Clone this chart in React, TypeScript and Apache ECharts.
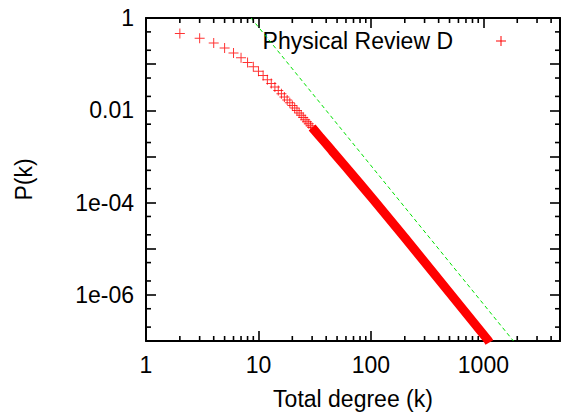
import React, { useEffect, useRef } from 'react';
import * as echarts from 'echarts';

// ---- data ----
const degreeK = [2, 3, 4, 5, 6, 7, 8, 9, 10, 11, 12, 13, 14, 15, 16, 17, 18, 19, 20, 21, 22, 23, 24, 25, 26, 27, 28, 29, 30];
const probabilityP = [
  0.463, 0.364, 0.288, 0.225, 0.175, 0.138, 0.109, 0.0874, 0.0699, 0.0564,
  0.046, 0.038, 0.0318, 0.0268, 0.0228, 0.0195, 0.0168, 0.0146, 0.0127, 0.0112,
  0.00986, 0.00875, 0.0078, 0.00698, 0.00627, 0.00565, 0.00512, 0.00465, 0.00423,
];
// dense part of the same series, where the markers merge into a solid band
const bandK = [30, 35, 40, 45, 60, 80, 107, 200, 500, 1100, 1130];
const bandP = [0.00423, 0.00272, 0.00187, 0.00133, 5.86e-4, 2.56e-4, 1.1e-4, 1.74e-5, 1.11e-6, 1.04e-7, 9.3e-8];
// green dashed reference line
const referenceK = [8.6, 1850];
const referenceP = [1, 1e-7];

const xTickValues = [1, 10, 100, 1000];
const xTickLabels = ['1', '10', '100', '1000'];
const yTickValues = [1, 0.01, 1e-4, 1e-6];
const yTickLabels = ['1', '0.01', '1e-04', '1e-06'];
const xMinorTicks = [2, 3, 4, 5, 6, 7, 8, 9, 20, 30, 40, 50, 60, 70, 80, 90, 200, 300, 400, 500, 600, 700, 800, 900, 2000, 3000, 4000];
const yMinorTicks = [0.5, 0.2, 0.05, 0.02, 0.005, 0.002, 5e-4, 2e-4, 5e-5, 2e-5, 5e-6, 2e-6, 5e-7, 2e-7];

const seriesName = 'Physical Review D';
const xAxisTitle = 'Total degree (k)';
const yAxisTitle = 'P(k)';

const FONT = "'Liberation Sans', Arial, Helvetica, sans-serif";
const FS = 23;
const PLUS = 'path://M0,4.5H10V5.5H0Z M4.5,0H5.5V10H4.5Z';
const TICK_W = 1.6;
const MINOR_LEN = 5;

const makeFormatter = (vals: number[], labels: string[]) => (v: number) => {
  const i = vals.findIndex((t) => Math.abs(Math.log10(t) - Math.log10(v)) < 1e-6);
  return i >= 0 ? labels[i] : '';
};

export default function App() {
  const ref = useRef<HTMLDivElement>(null);

  useEffect(() => {
    if (!ref.current) return;
    const chart = echarts.init(ref.current, undefined, { renderer: 'svg' });

    const labelStyle = { color: '#000', fontSize: FS, fontFamily: FONT };
    const axisLine = { show: true, onZero: false, lineStyle: { color: '#000', width: 2 } };
    const axisTick = { show: true, inside: true, length: 10, lineStyle: { color: '#000', width: TICK_W } };

    const option: any = {
      animation: false,
      backgroundColor: '#fff',
      grid: { left: 146, right: 2, top: 18, bottom: 73 },
      xAxis: [
        {
          type: 'log', logBase: 10, position: 'bottom', min: 1, max: 4800,
          axisLine, axisTick, splitLine: { show: false },
          axisLabel: { ...labelStyle, margin: 12, formatter: makeFormatter(xTickValues, xTickLabels) },
          name: xAxisTitle, nameLocation: 'middle', nameGap: 46, nameTextStyle: labelStyle,
        },
        {
          type: 'log', logBase: 10, position: 'top', min: 1, max: 4800,
          axisLine, axisTick, splitLine: { show: false },
          axisLabel: { show: false },
        },
      ],
      yAxis: [
        {
          type: 'log', logBase: 10, position: 'left', min: 1e-7, max: 1,
          axisLine, axisTick, splitLine: { show: false },
          axisLabel: { ...labelStyle, margin: 12, formatter: makeFormatter(yTickValues, yTickLabels) },
          name: yAxisTitle, nameLocation: 'middle', nameRotate: 90, nameGap: 111, nameTextStyle: labelStyle,
        },
        {
          type: 'log', logBase: 10, position: 'right', min: 1e-7, max: 1,
          axisLine, axisTick, splitLine: { show: false },
          axisLabel: { show: false },
        },
      ],
      series: [
        {
          name: seriesName,
          type: 'scatter',
          data: degreeK.map((k, i) => [k, probabilityP[i]]),
          symbol: PLUS,
          symbolSize: 10,
          itemStyle: { color: '#ff0000' },
          z: 3,
        },
        {
          name: seriesName,
          type: 'line',
          data: bandK.map((k, i) => [k, bandP[i]]),
          showSymbol: false,
          clip: false,
          lineStyle: { color: '#ff0000', width: 9 },
          z: 3,
        },
        {
          name: 'reference',
          type: 'line',
          data: referenceK.map((k, i) => [k, referenceP[i]]),
          showSymbol: false,
          lineStyle: { color: '#00e000', width: 1, type: [4, 3] },
          z: 4,
        },
        {
          type: 'custom',
          silent: true,
          clip: false,
          data: xMinorTicks.map((v) => [v, 0.001]),
          renderItem: (params: any, api: any) => {
            const cs = params.coordSys;
            const x = api.coord([api.value(0), 0.001])[0];
            const top = cs.y;
            const bottom = cs.y + cs.height;
            return {
              type: 'group',
              children: [
                { type: 'rect', shape: { x: x - TICK_W / 2, y: bottom - MINOR_LEN, width: TICK_W, height: MINOR_LEN }, style: { fill: '#000000' } },
                { type: 'rect', shape: { x: x - TICK_W / 2, y: top, width: TICK_W, height: MINOR_LEN }, style: { fill: '#000000' } },
              ],
            };
          },
          z: 5,
        },
        {
          type: 'custom',
          silent: true,
          clip: false,
          data: yMinorTicks.map((v) => [30, v]),
          renderItem: (params: any, api: any) => {
            const cs = params.coordSys;
            const y = api.coord([30, api.value(1)])[1];
            const left = cs.x;
            const right = cs.x + cs.width;
            return {
              type: 'group',
              children: [
                { type: 'rect', shape: { x: left, y: y - TICK_W / 2, width: MINOR_LEN, height: TICK_W }, style: { fill: '#000000' } },
                { type: 'rect', shape: { x: right - MINOR_LEN, y: y - TICK_W / 2, width: MINOR_LEN, height: TICK_W }, style: { fill: '#000000' } },
              ],
            };
          },
          z: 5,
        },
      ],
      graphic: [
        {
          type: 'text',
          x: 453,
          y: 41,
          style: {
            text: seriesName,
            textAlign: 'right',
            textVerticalAlign: 'middle',
            verticalAlign: 'middle',
            fontSize: FS,
            fontFamily: FONT,
            fill: '#000',
          },
        },
        { type: 'rect', shape: { x: 496, y: 40.5, width: 10, height: 1 }, style: { fill: '#ff0000' } },
        { type: 'rect', shape: { x: 500.5, y: 36, width: 1, height: 10 }, style: { fill: '#ff0000' } },
      ],
    };

    chart.setOption(option);
    return () => chart.dispose();
  }, []);

  return (
    <div
      ref={ref}
      style={{ position: 'absolute', left: 0, top: 0, width: 563, height: 415, background: '#fff' }}
    />
  );
}
